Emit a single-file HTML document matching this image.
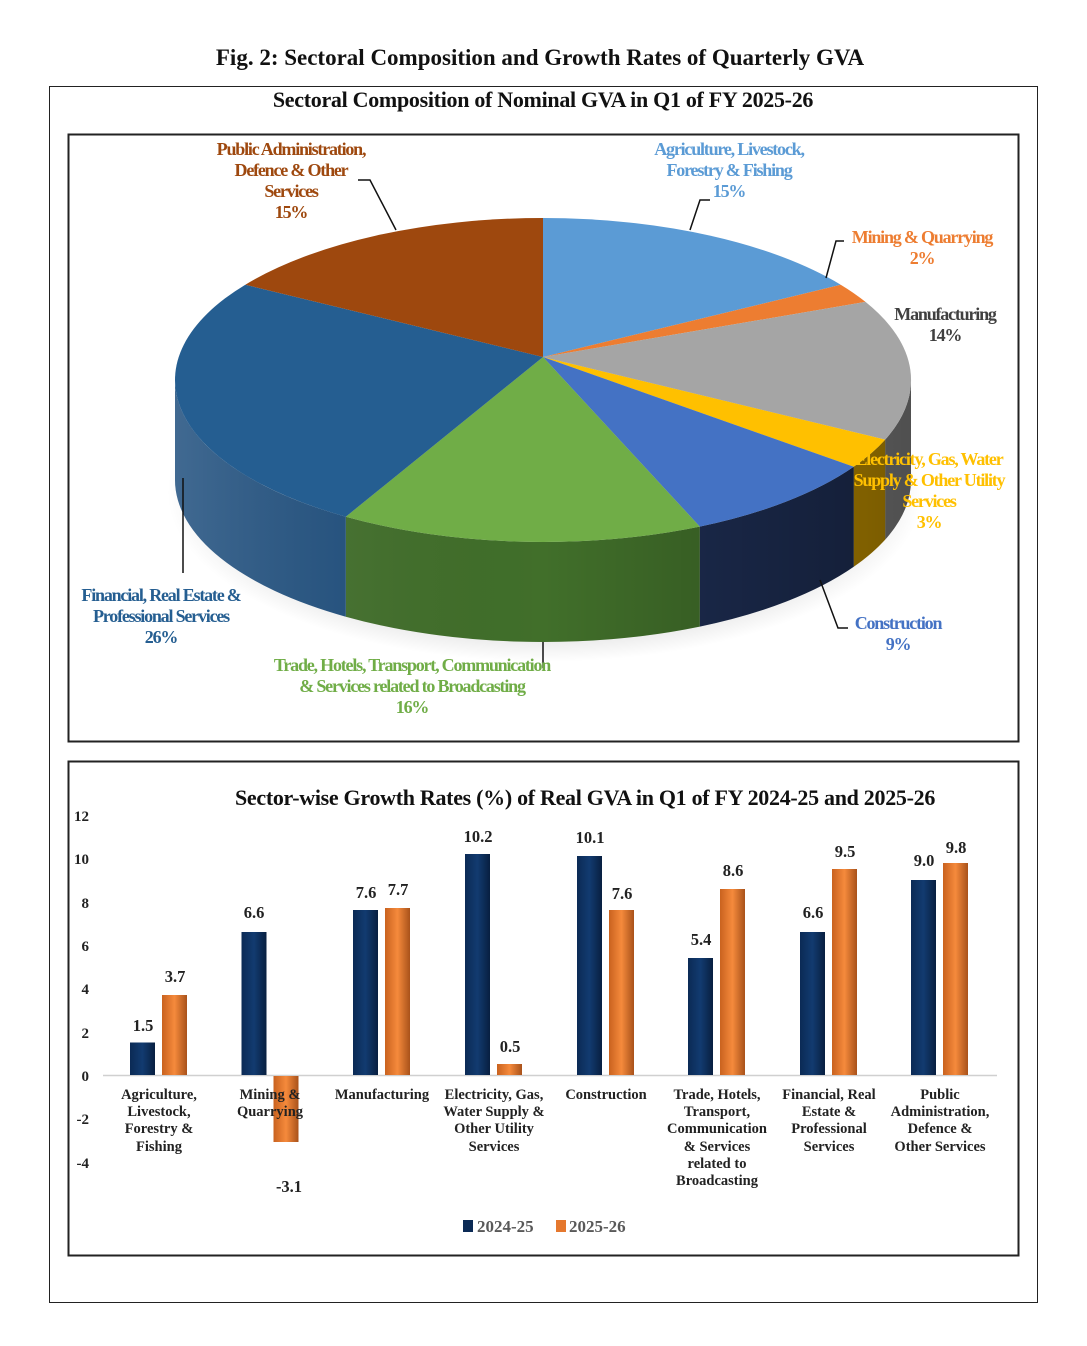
<!DOCTYPE html>
<html><head><meta charset="utf-8"><style>
html,body{margin:0;padding:0;background:#fff;}
svg{display:block;font-family:"Liberation Serif",serif;}
.pl{font-size:18px;letter-spacing:-1.2px;text-anchor:middle;font-weight:bold;}
.cat{font-size:14.5px;font-weight:bold;text-anchor:middle;fill:#222;}
.val{font-size:16.5px;font-weight:bold;text-anchor:middle;fill:#222;}
.yt{font-size:15px;font-weight:bold;text-anchor:end;fill:#222;}
</style></head><body>
<svg width="1087" height="1346" viewBox="0 0 1087 1346" xmlns="http://www.w3.org/2000/svg">
<defs>
<linearGradient id="sh" x1="0" x2="1" y1="0" y2="0">
<stop offset="0" stop-color="#fff" stop-opacity="0.15"/><stop offset="0.5" stop-color="#000" stop-opacity="0"/><stop offset="1" stop-color="#000" stop-opacity="0.35"/>
</linearGradient>
<linearGradient id="bb" x1="0" x2="1"><stop offset="0" stop-color="#0b2a55"/><stop offset="0.5" stop-color="#123b70"/><stop offset="1" stop-color="#081f40"/></linearGradient>
<linearGradient id="ob" x1="0" x2="1"><stop offset="0" stop-color="#c9621f"/><stop offset="0.5" stop-color="#f58a3c"/><stop offset="1" stop-color="#a9521a"/></linearGradient>
<radialGradient id="shadow" cx="0.5" cy="0.5" r="0.5"><stop offset="0.8" stop-color="#000" stop-opacity="0.12"/><stop offset="1" stop-color="#000" stop-opacity="0"/></radialGradient>
</defs>
<text x="540" y="65" font-size="23" font-weight="bold" text-anchor="middle" fill="#111">Fig. 2: Sectoral Composition and Growth Rates of Quarterly GVA</text>
<rect x="49.5" y="86.5" width="988" height="1216" fill="none" stroke="#222" stroke-width="1"/>
<text x="543" y="107" font-size="22" font-weight="bold" text-anchor="middle" fill="#111" letter-spacing="-0.3">Sectoral Composition of Nominal GVA in Q1 of FY 2025-26</text>
<rect x="68.5" y="134.5" width="950" height="607" fill="none" stroke="#222" stroke-width="2"/>

<ellipse cx="545" cy="492" rx="378" ry="170" fill="url(#shadow)"/>
<path d="M911,380 A368,162 0 0 1 885.2,439.6 L885.2,539.6 A368,162 0 0 0 911,480 Z" fill="#7a7a7a"/>
<path d="M885.2,439.6 A368,162 0 0 1 853.7,466.8 L853.7,566.8 A368,162 0 0 0 885.2,539.6 Z" fill="#b88a00"/>
<path d="M853.7,466.8 A368,162 0 0 1 699.8,526.6 L699.8,626.6 A368,162 0 0 0 853.7,566.8 Z" fill="#1d2d52"/>
<path d="M699.8,526.6 A368,162 0 0 1 345.8,516.7 L345.8,616.7 A368,162 0 0 0 699.8,626.6 Z" fill="#416f2a"/>
<path d="M345.8,516.7 A368,162 0 0 1 175,380 L175,480 A368,162 0 0 0 345.8,616.7 Z" fill="#1f4f7e"/>
<path d="M911,380 A368,162 0 0 1 175,380 L175,480 A368,162 0 0 0 911,480 Z" fill="url(#sh)"/>
<path d="M543,357 L543,218 A368,162 0 0 1 840.7,284.7 Z" fill="#5b9bd5"/>
<path d="M543,357 L840.7,284.7 A368,162 0 0 1 865.5,301.9 Z" fill="#ed7d31"/>
<path d="M543,357 L865.5,301.9 A368,162 0 0 1 885.2,439.6 Z" fill="#a5a5a5"/>
<path d="M543,357 L885.2,439.6 A368,162 0 0 1 853.7,466.8 Z" fill="#ffc000"/>
<path d="M543,357 L853.7,466.8 A368,162 0 0 1 699.8,526.6 Z" fill="#4472c4"/>
<path d="M543,357 L699.8,526.6 A368,162 0 0 1 345.8,516.7 Z" fill="#70ad47"/>
<path d="M543,357 L345.8,516.7 A368,162 0 0 1 245.3,284.7 Z" fill="#255e91"/>
<path d="M543,357 L245.3,284.7 A368,162 0 0 1 543,218 Z" fill="#9e480e"/>

<g stroke="#111" stroke-width="1.5" fill="none">
<path d="M358,180 L370,180 L396,230"/>
<path d="M710,200 L700,200 L690,230"/>
<path d="M844,241 L836,241 L826,278"/>
<path d="M820,580 L838,628 L848,628"/>
<path d="M183,478 L183,573"/>
<path d="M543,642 L543,668"/>
</g>
<g class="pl">
<text x="291" y="155" fill="#9e480e">Public Administration,</text>
<text x="291" y="176" fill="#9e480e">Defence &amp; Other</text>
<text x="291" y="197" fill="#9e480e">Services</text>
<text x="291" y="218" fill="#9e480e">15%</text>
<text x="729" y="155" fill="#5b9bd5">Agriculture, Livestock,</text>
<text x="729" y="176" fill="#5b9bd5">Forestry &amp; Fishing</text>
<text x="729" y="197" fill="#5b9bd5">15%</text>
<text x="922" y="243" fill="#ed7d31">Mining &amp; Quarrying</text>
<text x="922" y="264" fill="#ed7d31">2%</text>
<text x="945" y="320" fill="#404040">Manufacturing</text>
<text x="945" y="341" fill="#404040">14%</text>
<text x="929" y="465" fill="#ffc000">Electricity, Gas, Water</text>
<text x="929" y="486" fill="#ffc000">Supply &amp; Other Utility</text>
<text x="929" y="507" fill="#ffc000">Services</text>
<text x="929" y="528" fill="#ffc000">3%</text>
<text x="898" y="629" fill="#4472c4">Construction</text>
<text x="898" y="650" fill="#4472c4">9%</text>
<text x="161" y="601" fill="#255e91">Financial, Real Estate &amp;</text>
<text x="161" y="622" fill="#255e91">Professional Services</text>
<text x="161" y="643" fill="#255e91">26%</text>
<text x="412" y="671" fill="#70ad47">Trade, Hotels, Transport, Communication</text>
<text x="412" y="692" fill="#70ad47">&amp; Services related to Broadcasting</text>
<text x="412" y="713" fill="#70ad47">16%</text>
</g>

<rect x="68.5" y="761.5" width="950" height="494" fill="none" stroke="#222" stroke-width="2"/>
<text x="585" y="805" font-size="22" font-weight="bold" text-anchor="middle" fill="#111" letter-spacing="-0.3">Sector-wise Growth Rates (%) of Real GVA in Q1 of FY 2024-25 and 2025-26</text>
<g>
<text class="yt" x="89" y="821">12</text>
<text class="yt" x="89" y="864">10</text>
<text class="yt" x="89" y="908">8</text>
<text class="yt" x="89" y="951">6</text>
<text class="yt" x="89" y="994">4</text>
<text class="yt" x="89" y="1038">2</text>
<text class="yt" x="89" y="1081">0</text>
<text class="yt" x="89" y="1124">-2</text>
<text class="yt" x="89" y="1168">-4</text>
</g>
<line x1="103" y1="1075.5" x2="997" y2="1075.5" stroke="#d0d0d0" stroke-width="1.5"/>
<g>
<rect x="130" y="1042.5" width="25" height="32.5" fill="url(#bb)"/>
<rect x="162" y="995" width="25" height="80" fill="url(#ob)"/>
<rect x="241.5" y="932" width="25" height="143" fill="url(#bb)"/>
<rect x="273.5" y="1076" width="25" height="66" fill="url(#ob)"/>
<rect x="353" y="910" width="25" height="165" fill="url(#bb)"/>
<rect x="385" y="908" width="25" height="167" fill="url(#ob)"/>
<rect x="465" y="854" width="25" height="221" fill="url(#bb)"/>
<rect x="497" y="1064" width="25" height="11" fill="url(#ob)"/>
<rect x="577" y="856" width="25" height="219" fill="url(#bb)"/>
<rect x="609" y="910" width="25" height="165" fill="url(#ob)"/>
<rect x="688" y="958" width="25" height="117" fill="url(#bb)"/>
<rect x="720" y="889" width="25" height="186" fill="url(#ob)"/>
<rect x="800" y="932" width="25" height="143" fill="url(#bb)"/>
<rect x="832" y="869" width="25" height="206" fill="url(#ob)"/>
<rect x="911" y="880" width="25" height="195" fill="url(#bb)"/>
<rect x="943" y="863" width="25" height="212" fill="url(#ob)"/>
</g>
<g class="val">
<text x="143" y="1031">1.5</text><text x="175" y="982">3.7</text>
<text x="254" y="918">6.6</text><text x="289" y="1192">-3.1</text>
<text x="366" y="898">7.6</text><text x="398" y="895">7.7</text>
<text x="478" y="842">10.2</text><text x="510" y="1052">0.5</text>
<text x="590" y="843">10.1</text><text x="622" y="899">7.6</text>
<text x="701" y="945">5.4</text><text x="733" y="876">8.6</text>
<text x="813" y="918">6.6</text><text x="845" y="857">9.5</text>
<text x="924" y="866">9.0</text><text x="956" y="853">9.8</text>
</g>
<g class="cat">
<text x="159" y="1099">Agriculture,</text><text x="159" y="1116">Livestock,</text><text x="159" y="1133">Forestry &amp;</text><text x="159" y="1151">Fishing</text>
<text x="270" y="1099">Mining &amp;</text><text x="270" y="1116">Quarrying</text>
<text x="382" y="1099">Manufacturing</text>
<text x="494" y="1099">Electricity, Gas,</text><text x="494" y="1116">Water Supply &amp;</text><text x="494" y="1133">Other Utility</text><text x="494" y="1151">Services</text>
<text x="606" y="1099">Construction</text>
<text x="717" y="1099">Trade, Hotels,</text><text x="717" y="1116">Transport,</text><text x="717" y="1133">Communication</text><text x="717" y="1151">&amp; Services</text><text x="717" y="1168">related to</text><text x="717" y="1185">Broadcasting</text>
<text x="829" y="1099">Financial, Real</text><text x="829" y="1116">Estate &amp;</text><text x="829" y="1133">Professional</text><text x="829" y="1151">Services</text>
<text x="940" y="1099">Public</text><text x="940" y="1116">Administration,</text><text x="940" y="1133">Defence &amp;</text><text x="940" y="1151">Other Services</text>
</g>
<rect x="463" y="1220" width="10" height="12" fill="#0b2a55"/>
<text x="477" y="1232" font-size="17" font-weight="bold" fill="#595959">2024-25</text>
<rect x="556" y="1220" width="10" height="12" fill="#e5782e"/>
<text x="569" y="1232" font-size="17" font-weight="bold" fill="#595959">2025-26</text>
</svg>
</body></html>
